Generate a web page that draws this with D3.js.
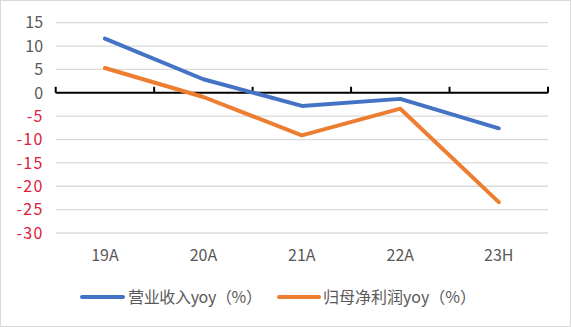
<!DOCTYPE html>
<html><head><meta charset="utf-8">
<script src="https://cdn.jsdelivr.net/npm/d3@7"></script>
<style>
html,body{margin:0;padding:0;background:#fff;}
svg{display:block;font-family:"Noto Sans CJK SC","Noto Sans",sans-serif;}
</style></head>
<body>
<svg id="chart" width="571" height="327"></svg>
<script>
const categories = ["19A","20A","21A","22A","23H"];
const revenueYoy = [11.6, 2.9, -2.8, -1.3, -7.6];
const profitYoy = [5.3, -0.9, -9.1, -3.4, -23.4];
const yTicks = [15,10,5,0,-5,-10,-15,-20,-25,-30];
const seriesNames = ["营业收入yoy（%）","归母净利润yoy（%）"];
const colors = ["#4472C4","#ED7D31"];

const svg = d3.select("#chart");
svg.append("rect").attr("x",0.5).attr("y",0.5).attr("width",570).attr("height",326)
  .attr("fill","#fff").attr("stroke","#d9d9d9");

const x = d3.scaleBand().domain(categories).range([55.7,548]).paddingInner(0).paddingOuter(0);
const y = d3.scaleLinear().domain([-30,15]).range([233,22.7]);

// gridlines
svg.append("g").selectAll("line").data(yTicks.filter(d=>d!==0)).join("line")
  .attr("x1",55.7).attr("x2",548).attr("y1",d=>y(d)).attr("y2",d=>y(d))
  .attr("stroke","#d9d9d9").attr("stroke-width",1.3);

// y labels
svg.append("g").selectAll("text").data(yTicks).join("text")
  .attr("x",43.5).attr("y",d=>y(d)).attr("dy","0.36em").attr("text-anchor","end")
  .attr("font-size",16).attr("fill",d=>d<0?"#E0203A":"#595959")
  .attr("letter-spacing",d=>d<0?"1.2px":"0.3px")
  .text(d=>d);

// zero axis
const zeroY = y(0);
svg.append("line").attr("x1",55.7).attr("x2",548).attr("y1",zeroY).attr("y2",zeroY)
  .attr("stroke","#000").attr("stroke-width",2);
const bounds = categories.map(c=>x(c)).concat([x.range()[1]]);
svg.append("g").selectAll("line").data(bounds).join("line")
  .attr("x1",d=>d).attr("x2",d=>d).attr("y1",zeroY).attr("y2",zeroY-6)
  .attr("stroke","#000").attr("stroke-width",2);

// x labels
svg.append("g").selectAll("text").data(categories).join("text")
  .attr("x",d=>x(d)+x.bandwidth()/2).attr("y",261).attr("text-anchor","middle")
  .attr("font-size",16).attr("fill","#595959").text(d=>d);

// lines
const line = d3.line().x((d,i)=>x(categories[i])+x.bandwidth()/2).y(d=>y(d));
[revenueYoy, profitYoy].forEach((s,k)=>{
  svg.append("path").attr("d",line(s)).attr("fill","none").attr("stroke",colors[k])
    .attr("stroke-width",4).attr("stroke-linejoin","round").attr("stroke-linecap","round");
});

// legend
const legendItems = [{x1:82,x2:123,tx:128,w:134},{x1:279,x2:319,tx:323,w:153}];
legendItems.forEach((l,k)=>{
  svg.append("line").attr("x1",l.x1).attr("x2",l.x2).attr("y1",297).attr("y2",297)
    .attr("stroke",colors[k]).attr("stroke-width",4).attr("stroke-linecap","round");
  svg.append("text").attr("x",l.tx).attr("y",297).attr("dy","0.36em")
    .attr("font-size",16).attr("fill","#595959")
    .attr("textLength",l.w).attr("lengthAdjust","spacing").text(seriesNames[k]);
});
</script>
</body></html>
